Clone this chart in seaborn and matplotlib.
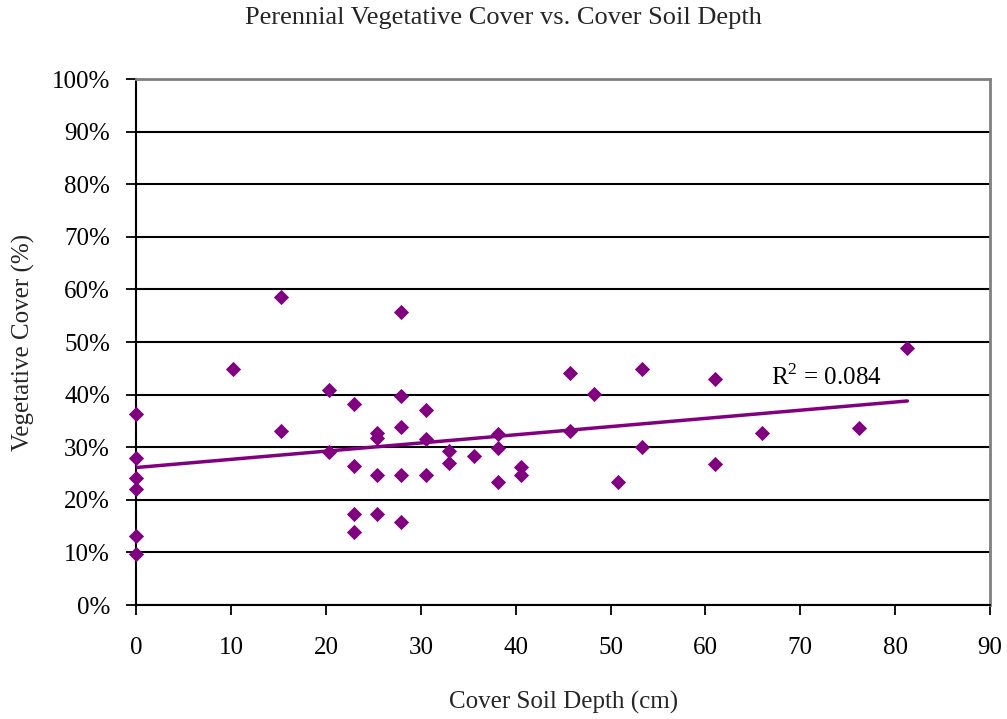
import numpy as np
import pandas as pd
import matplotlib
matplotlib.use("Agg")
import matplotlib.pyplot as plt
import seaborn as sns
from matplotlib.ticker import PercentFormatter

# Data (cover soil depth in cm, vegetative cover in %)
depth = [0, 0, 0, 0, 0, 0,
         10.2, 15.2, 15.2, 20.3, 20.3,
         22.9, 22.9, 22.9, 22.9,
         25.4, 25.4, 25.4, 25.4,
         27.9, 27.9, 27.9, 27.9, 27.9,
         30.5, 30.5, 30.5,
         33.0, 33.0, 35.6,
         38.1, 38.1, 38.1,
         40.6, 40.6,
         45.7, 45.7, 48.3, 50.8, 53.3, 53.3,
         61.0, 61.0, 66.0, 76.2, 81.3]
cover = [36.3, 28.0, 24.1, 22.1, 13.1, 9.7,
         44.8, 58.5, 33.1, 40.9, 29.1,
         38.2, 26.5, 17.4, 13.9,
         32.8, 31.7, 24.8, 17.4,
         55.8, 39.7, 33.9, 24.8, 15.8,
         37.0, 31.5, 24.8,
         29.3, 27.1, 28.4,
         32.5, 29.9, 23.3,
         26.3, 24.7,
         44.2, 33.1, 40.1, 23.3, 44.9, 30.0,
         42.9, 26.8, 32.8, 33.6, 48.8]

df = pd.DataFrame({"depth": depth, "cover": cover})

title = "Perennial Vegetative Cover vs. Cover Soil Depth"
xlabel = "Cover Soil Depth (cm)"
ylabel = "Vegetative Cover (%)"
r2_label = "R$^2$ = 0.084"

sns.set_theme(style="white")
plt.rcParams['font.family'] = ['Liberation Serif', 'DejaVu Serif']
plt.rcParams['mathtext.fontset'] = 'custom'
plt.rcParams['mathtext.rm'] = 'Liberation Serif'

fig = plt.figure(figsize=(10.07, 7.19), dpi=100)
ax = fig.add_axes([0.1355, 0.1585, 0.8475, 0.7315])

purple = "#800080"

# trendline (linear fit)
coef = np.polyfit(df["depth"], df["cover"], 1)
xs = np.array([0, max(depth)])
sns.lineplot(x=xs, y=np.polyval(coef, xs), ax=ax, color=purple, linewidth=2.5, zorder=3)

sns.scatterplot(data=df, x="depth", y="cover", ax=ax, marker="D", s=60,
                color=purple, edgecolor=purple, linewidth=0, zorder=4, clip_on=False)

ax.set_xlim(0, 90)
ax.set_ylim(0, 100)
ax.set_xticks(np.arange(0, 91, 10))
ax.set_yticks(np.arange(0, 101, 10))
ax.yaxis.set_major_formatter(PercentFormatter(decimals=0))
ax.grid(axis="y", color="black", linewidth=1.5)
ax.set_axisbelow(True)

for s in ["left", "bottom"]:
    ax.spines[s].set_color("black")
    ax.spines[s].set_linewidth(1.5)
for s in ["top", "right"]:
    ax.spines[s].set_color("#808080")
    ax.spines[s].set_linewidth(2)

ax.tick_params(axis="both", which="major", direction="out", length=7, width=1.3,
               color="black", labelsize=18, labelcolor="black", bottom=True, left=True)
ax.tick_params(axis="x", pad=16)
ax.tick_params(axis="y", pad=12)

ax.set_xlabel(xlabel, fontsize=18, labelpad=23)
ax.set_ylabel(ylabel, fontsize=18, labelpad=12)
fig.suptitle(title, fontsize=19, y=0.99)

ax.text(66.9, 41.8, r2_label, fontsize=18, color="black")

fig.savefig("out.png", dpi=100)
